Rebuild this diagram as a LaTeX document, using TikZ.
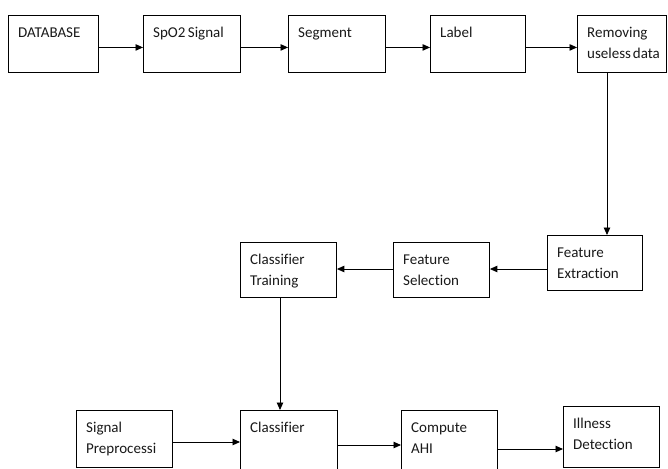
\documentclass[tikz,border=0pt]{standalone}
\usepackage{fontspec}
\setmainfont{Carlito}[Ligatures=NoCommon]
\usetikzlibrary{arrows.meta,calc}
\tikzset{
  box/.style={draw=black, line width=0.9pt, rectangle, inner sep=0pt, anchor=north west},
  txt/.style={anchor=north west, inner sep=0pt, align=left, font=\fontsize{15}{21}\selectfont, text=black!90},
  arr/.style={draw=black, line width=0.9pt, -{Triangle[length=7.5pt,width=6.5pt]}}
}
\newcommand\bx[6]{%
  \node[box, minimum width=#4, minimum height=#5] (#1) at (#2,#3) {};
  \node[txt] (#1-t) at ($(#1.north west)+(10,0)$) {\rule{0pt}{22.5pt}#6};
}
\begin{document}
\begin{tikzpicture}[x=1pt,y=-1pt]
\useasboundingbox (0,0) rectangle (668,468);
\clip (0,0) rectangle (668,468);
% row 1
\bx{db}{8}{15}{90}{57}{DATABASE}
\bx{spo}{143}{15}{97}{57}{SpO2\hspace{-1pt} Signal}
\bx{seg}{288}{15}{97}{57}{Segment}
\bx{lab}{430}{15}{95}{57}{Label}
\bx{rem}{577}{15}{89}{57}{Removing\\useless\hspace{-1.5pt} data}
% row 2
\bx{fe}{547}{235}{95}{55}{Feature\\Extraction}
\bx{fs}{393}{242}{96}{55}{Feature\\Selection}
\bx{ct}{240}{242}{96}{55}{Classifier\\Training}
% row 3
\bx{sp}{76}{410}{96}{57}{Signal\\Preprocessi}
\bx{cl}{240}{410}{97}{75}{Classifier}
\bx{ca}{401}{410}{96}{75}{Compute\\AHI}
\bx{il}{563}{406}{96}{61}{Illness\\Detection}
% connectors
\draw[arr] ($(db.east)+(0,3.5)$) -- ($(spo.west)+(0,3.5)$);
\draw[arr] ($(spo.east)+(0,3.5)$) -- ($(seg.west)+(0,3.5)$);
\draw[arr] ($(seg.east)+(0,3.5)$) -- ($(lab.west)+(0,3.5)$);
\draw[arr] ($(lab.east)+(0,3.5)$) -- ($(rem.west)+(0,3.5)$);
\coordinate (vx) at (607,0);
\draw[arr] (rem.south -| vx) -- (fe.north -| vx);
\coordinate (hy) at (0,269);
\draw[arr] (fe.west |- hy) -- (fs.east |- hy);
\draw[arr] (fs.west |- hy) -- (ct.east |- hy);
\coordinate (vx2) at (280,0);
\draw[arr] (ct.south -| vx2) -- (cl.north -| vx2);
\coordinate (h1) at (0,442);
\coordinate (h2) at (0,445);
\coordinate (h3) at (0,449);
\draw[arr] (sp.east |- h1) -- (cl.west |- h1);
\draw[arr] (cl.east |- h2) -- (ca.west |- h2);
\draw[arr] (ca.east |- h3) -- (il.west |- h3);
\end{tikzpicture}
\end{document}
